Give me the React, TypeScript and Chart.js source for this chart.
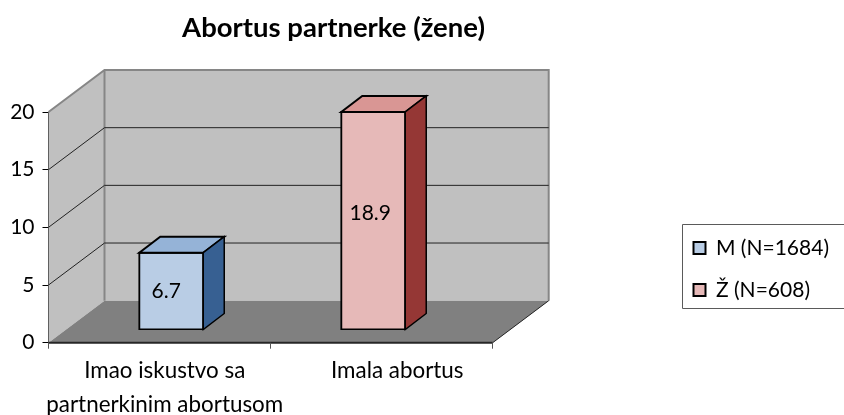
import React, { useEffect, useRef } from "react";
import { Chart, registerables } from "chart.js";

Chart.register(...registerables);

const categories = [["Imao iskustvo sa", "partnerkinim abortusom"], "Imala abortus"];
const maleValues = [6.7, null];
const femaleValues = [null, 18.9];
const seriesNames = ["M (N=1684)", "Ž (N=608)"];
const titleText = "Abortus partnerke (žene)";
const yTicksStep = 5;
const yMax = 20;

const FONT = "Lato, 'Open Sans', sans-serif";
const WALL = "#C0C0C0";
const WALL_EDGE = "#868686";
const FLOOR = "#808080";
const DEPTH_X = 56;
const DEPTH_Y = 42;
const FRONT_RIGHT = 492.7;
const BAR_DEPTH_X = 21;
const BAR_DEPTH_Y = 16;

const barStyles = [
  { dx: 6.5, dy: -12.7, top: "#95B3D7", side: "#376092", labelDx: -5, labelDy: 0 },
  { dx: -24, dy: -12.7, top: "#D99694", side: "#953735", labelDx: -3, labelDy: -8 },
];

const plugin3d = {
  id: "plugin3d",
  afterLayout(chart: any) {
    const t = chart.titleBlock;
    if (t) {
      t.left = 0;
      t.right = 667;
    }
    const l = chart.legend;
    if (l) {
      const w = l.width;
      const h = l.height;
      l.left = 693.5 - l.options.labels.padding;
      l.right = l.left + w;
      l.top = 216.5;
      l.bottom = l.top + h;
    }
  },
  beforeDatasetsDraw(chart: any) {
    const { ctx, scales } = chart;
    const y = scales.y;
    const left = chart.chartArea.left;
    const y0 = y.getPixelForValue(0);
    const yTop = y.getPixelForValue(yMax);
    ctx.save();
    // side wall
    ctx.fillStyle = WALL;
    ctx.beginPath();
    ctx.moveTo(left, y0);
    ctx.lineTo(left + DEPTH_X, y0 - DEPTH_Y);
    ctx.lineTo(left + DEPTH_X, yTop - DEPTH_Y);
    ctx.lineTo(left, yTop);
    ctx.closePath();
    ctx.fill();
    // back wall
    ctx.fillRect(left + DEPTH_X, yTop - DEPTH_Y, FRONT_RIGHT - left, y0 - yTop);
    // floor
    ctx.fillStyle = FLOOR;
    ctx.beginPath();
    ctx.moveTo(left, y0);
    ctx.lineTo(left + DEPTH_X, y0 - DEPTH_Y);
    ctx.lineTo(FRONT_RIGHT + DEPTH_X, y0 - DEPTH_Y);
    ctx.lineTo(FRONT_RIGHT, y0);
    ctx.closePath();
    ctx.fill();
    // wall edges
    ctx.strokeStyle = WALL_EDGE;
    ctx.lineWidth = 2;
    ctx.beginPath();
    ctx.moveTo(left, yTop);
    ctx.lineTo(left + DEPTH_X, yTop - DEPTH_Y);
    ctx.lineTo(FRONT_RIGHT + DEPTH_X, yTop - DEPTH_Y);
    ctx.lineTo(FRONT_RIGHT + DEPTH_X, y0 - DEPTH_Y);
    ctx.moveTo(left + DEPTH_X, yTop - DEPTH_Y);
    ctx.lineTo(left + DEPTH_X, y0 - DEPTH_Y);
    ctx.stroke();
    // gridlines
    ctx.strokeStyle = "#222222";
    ctx.lineWidth = 1;
    ctx.beginPath();
    y.ticks.forEach((tk: any) => {
      if (tk.value === 0 || tk.value === yMax) return;
      const p = y.getPixelForValue(tk.value);
      ctx.moveTo(left, p);
      ctx.lineTo(left + DEPTH_X, p - DEPTH_Y);
      ctx.lineTo(FRONT_RIGHT + DEPTH_X, p - DEPTH_Y);
    });
    ctx.moveTo(FRONT_RIGHT, y0);
    ctx.lineTo(FRONT_RIGHT + DEPTH_X, y0 - DEPTH_Y);
    ctx.stroke();
    // front axis line and ticks
    ctx.strokeStyle = "#262626";
    ctx.lineWidth = 2;
    ctx.beginPath();
    ctx.moveTo(left, y0);
    ctx.lineTo(FRONT_RIGHT, y0);
    ctx.stroke();
    ctx.strokeStyle = "#555555";
    ctx.lineWidth = 1;
    ctx.beginPath();
    [left, (left + FRONT_RIGHT) / 2, FRONT_RIGHT].forEach((px) => {
      ctx.moveTo(Math.floor(px) + 0.5, y0);
      ctx.lineTo(Math.floor(px) + 0.5, y0 + 6);
    });
    ctx.stroke();
    ctx.restore();
  },
  beforeDatasetDraw(chart: any, args: any) {
    const s = barStyles[args.index];
    chart.ctx.save();
    chart.ctx.translate(s.dx, s.dy);
  },
  afterDatasetDraw(chart: any, args: any) {
    const { ctx } = chart;
    const s = barStyles[args.index];
    const ds = chart.data.datasets[args.index];
    chart.getDatasetMeta(args.index).data.forEach((bar: any, i: number) => {
      if (ds.data[i] == null) return;
      const l = bar.x - bar.width / 2;
      const r = bar.x + bar.width / 2;
      const t = bar.y;
      const b = bar.base;
      ctx.lineJoin = "miter";
      ctx.strokeStyle = "#000000";
      ctx.fillStyle = s.top;
      ctx.lineWidth = 2;
      ctx.beginPath();
      ctx.moveTo(l, t);
      ctx.lineTo(l + BAR_DEPTH_X, t - BAR_DEPTH_Y);
      ctx.lineTo(r + BAR_DEPTH_X, t - BAR_DEPTH_Y);
      ctx.lineTo(r, t);
      ctx.closePath();
      ctx.fill();
      ctx.stroke();
      ctx.fillStyle = s.side;
      ctx.lineWidth = 1.5;
      ctx.beginPath();
      ctx.moveTo(r, t);
      ctx.lineTo(r + BAR_DEPTH_X, t - BAR_DEPTH_Y);
      ctx.lineTo(r + BAR_DEPTH_X, b - BAR_DEPTH_Y);
      ctx.lineTo(r, b);
      ctx.closePath();
      ctx.fill();
      ctx.stroke();
      ctx.fillStyle = "#000000";
      ctx.font = `21px ${FONT}`;
      ctx.textAlign = "center";
      ctx.textBaseline = "middle";
      ctx.fillText(String(ds.data[i]), bar.x + s.labelDx, (t + b) / 2 + s.labelDy);
    });
    ctx.restore();
  },
  afterDraw(chart: any) {
    const { ctx } = chart;
    ctx.save();
    ctx.strokeStyle = "#5a5a5a";
    ctx.lineWidth = 1;
    ctx.beginPath();
    ctx.moveTo(844, 224.5);
    ctx.lineTo(682.5, 224.5);
    ctx.lineTo(682.5, 308.5);
    ctx.lineTo(844, 308.5);
    ctx.stroke();
    ctx.restore();
  },
};

export default function App() {
  const ref = useRef<HTMLCanvasElement>(null);
  useEffect(() => {
    const chart = new Chart(ref.current as HTMLCanvasElement, {
      type: "bar",
      data: {
        labels: categories as any,
        datasets: [
          {
            label: seriesNames[0],
            data: maleValues,
            backgroundColor: "#B9CDE5",
            borderColor: "#000000",
            borderWidth: 2,
            borderSkipped: false,
            barThickness: 64,
            inflateAmount: 1,
            grouped: false,
          },
          {
            label: seriesNames[1],
            data: femaleValues,
            backgroundColor: "#E6B9B8",
            borderColor: "#000000",
            borderWidth: 2,
            borderSkipped: false,
            barThickness: 64,
            inflateAmount: 1,
            grouped: false,
          },
        ] as any,
      },
      plugins: [plugin3d],
      options: {
        responsive: false,
        animation: false,
        layout: { padding: { top: 0, left: 0, right: 164, bottom: 0 } },
        plugins: {
          tooltip: { enabled: false },
          title: {
            display: true,
            text: titleText,
            color: "#000000",
            font: { family: FONT, size: 27.5, weight: "bold", lineHeight: 1.2 },
            padding: { top: 11.5, bottom: 67.5 },
          },
          legend: {
            display: true,
            position: "right",
            align: "start",
            labels: {
              color: "#000000",
              font: { family: FONT, size: 21 },
              boxWidth: 12,
              boxHeight: 12,
              padding: 21,
            },
          },
        },
        scales: {
          x: {
            grid: { display: false, drawTicks: false },
            border: { display: false },
            afterFit(s: any) {
              s.height = 72.3;
            },
            ticks: {
              autoSkip: false,
              maxRotation: 0,
              minRotation: 0,
              color: "#000000",
              padding: 11,
              font: { family: FONT, size: 22.4, lineHeight: 1.52 },
            },
          },
          y: {
            min: 0,
            max: yMax,
            afterFit(s: any) {
              s.width = 48.5;
            },
            grid: { drawOnChartArea: false, drawTicks: true, tickLength: 6, color: "#000000" },
            border: { display: true, color: "#000000", width: 1 },
            ticks: {
              stepSize: yTicksStep,
              color: "#000000",
              padding: 8,
              font: { family: FONT, size: 21 },
            },
          },
        },
      } as any,
    });
    return () => chart.destroy();
  }, []);
  return (
    <div style={{ position: "absolute", left: 0, top: 0, width: 844, height: 415 }}>
      <canvas ref={ref} width={844} height={415} style={{ display: "block" }} />
    </div>
  );
}
